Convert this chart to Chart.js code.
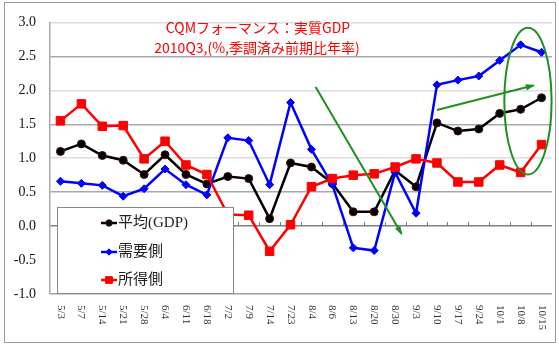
<!DOCTYPE html>
<html>
<head>
<meta charset="utf-8">
<script src="https://cdn.jsdelivr.net/npm/chart.js@4/dist/chart.umd.min.js"></script>
<style>
  html, body { margin: 0; padding: 0; background: #fff; }
</style>
</head>
<body>
<canvas id="c" width="559" height="347"></canvas>
<script>
// データ
const dates = ['5/3','5/7','5/14','5/21','5/28','6/4','6/11','6/18','7/2','7/9','7/14','7/23',
  '8/4','8/6','8/13','8/20','8/30','9/3','9/10','9/17','9/24','10/1','10/8','10/15'];
const heikin = [1.10, 1.21, 1.04, 0.97, 0.76, 1.05, 0.76, 0.62, 0.73, 0.70, 0.11, 0.93,
  0.87, 0.63, 0.21, 0.21, 0.82, 0.58, 1.52, 1.40, 1.43, 1.66, 1.72, 1.89];
const juyou = [0.66, 0.63, 0.60, 0.44, 0.55, 0.84, 0.61, 0.46, 1.30, 1.26, 0.61, 1.82,
  1.13, 0.61, -0.32, -0.36, 0.79, 0.19, 2.08, 2.15, 2.21, 2.44, 2.67, 2.56];
const shotoku = [1.55, 1.80, 1.47, 1.48, 0.99, 1.25, 0.90, 0.76, 0.17, 0.16, -0.37, 0.02,
  0.58, 0.70, 0.75, 0.77, 0.87, 0.99, 0.93, 0.65, 0.65, 0.90, 0.79, 1.20];
const titleLines = ['CQMフォーマンス：実質GDP', '2010Q3,(%,季調済み前期比年率)'];

// 緑の矢印・楕円 (カテゴリ番号, 値)
const arrows = [
  [[12.2, 2.05], [16.3, -0.11]],
  [[18.0, 1.71], [22.6, 2.07]]
];
const ellipse = { x: 22.35, y: 1.84, rx: 1.13, ry: 1.08 };

const serif = '"Liberation Serif", "DejaVu Serif", serif';
const jp = '"Noto Sans CJK JP", sans-serif';

const extras = {
  id: 'extras',
  beforeDraw(chart) {
    const ctx = chart.ctx;
    ctx.save();
    ctx.fillStyle = '#fff';
    ctx.fillRect(0, 0, chart.width, chart.height);
    ctx.strokeStyle = '#9a9a9a';
    ctx.lineWidth = 1;
    ctx.strokeRect(4.5, 2.5, 551, 340);
    ctx.restore();
  },
  afterDatasetsDraw(chart) {
    const ctx = chart.ctx;
    const xs = chart.scales.x, ys = chart.scales.y;
    const area = chart.chartArea;
    ctx.save();

    // 0ライン上の目盛り
    const y0 = ys.getPixelForValue(0);
    const step = (area.right - area.left) / dates.length;
    ctx.strokeStyle = '#777';
    ctx.lineWidth = 1;
    for (let i = 1; i < dates.length; i++) {
      const px = Math.round(area.left + step * i) + 0.5;
      ctx.beginPath(); ctx.moveTo(px, y0); ctx.lineTo(px, y0 - 4); ctx.stroke();
    }

    // x軸ラベル (縦書き)
    ctx.fillStyle = '#333';
    ctx.font = '11px ' + serif;
    ctx.textAlign = 'left';
    ctx.textBaseline = 'middle';
    dates.forEach((d, i) => {
      ctx.save();
      ctx.translate(xs.getPixelForValue(i), area.bottom + 11);
      ctx.rotate(Math.PI / 2);
      ctx.fillText(d, 0, 0);
      ctx.restore();
    });

    // タイトル
    ctx.fillStyle = '#ff0000';
    ctx.font = '14px ' + jp;
    ctx.textAlign = 'center';
    ctx.fillText(titleLines[0], 258, 28);
    ctx.fillText(titleLines[1], 257, 48);

    // 緑の注記
    ctx.strokeStyle = '#1f8f1f';
    ctx.fillStyle = '#1f8f1f';
    ctx.lineWidth = 2;
    arrows.forEach(a => {
      const x1 = xs.getPixelForValue(a[0][0]), y1 = ys.getPixelForValue(a[0][1]);
      const x2 = xs.getPixelForValue(a[1][0]), y2 = ys.getPixelForValue(a[1][1]);
      ctx.beginPath(); ctx.moveTo(x1, y1); ctx.lineTo(x2, y2); ctx.stroke();
      const ang = Math.atan2(y2 - y1, x2 - x1);
      ctx.beginPath();
      ctx.moveTo(x2 + 2 * Math.cos(ang), y2 + 2 * Math.sin(ang));
      ctx.lineTo(x2 - 8 * Math.cos(ang - 0.4), y2 - 8 * Math.sin(ang - 0.4));
      ctx.lineTo(x2 - 8 * Math.cos(ang + 0.4), y2 - 8 * Math.sin(ang + 0.4));
      ctx.closePath(); ctx.fill();
    });
    const ex = xs.getPixelForValue(ellipse.x), ey = ys.getPixelForValue(ellipse.y);
    const erx = xs.getPixelForValue(ellipse.x + ellipse.rx) - ex;
    const ery = ey - ys.getPixelForValue(ellipse.y + ellipse.ry);
    ctx.beginPath(); ctx.ellipse(ex, ey, erx, ery, 0, 0, Math.PI * 2); ctx.stroke();

    // 凡例
    const lx = 57.5, ly = 207.5, lw = 176, lh = 86;
    ctx.fillStyle = '#fff';
    ctx.fillRect(lx, ly, lw, lh);
    ctx.strokeStyle = '#888';
    ctx.lineWidth = 1;
    ctx.strokeRect(lx, ly, lw, lh);
    const rows = [223, 252, 280];
    [0, 1, 2].forEach((di, k) => {
      const ds = chart.data.datasets[di];
      const yy = rows[k];
      ctx.strokeStyle = ds.borderColor;
      ctx.lineWidth = 2.5;
      ctx.beginPath(); ctx.moveTo(101, yy); ctx.lineTo(117, yy); ctx.stroke();
      ctx.fillStyle = ds.pointBackgroundColor;
      ctx.strokeStyle = ds.pointBorderColor;
      ctx.lineWidth = 1;
      Chart.helpers.drawPoint(ctx, {
        pointStyle: ds.pointStyle, radius: ds.pointRadius * 0.8, borderWidth: 1, rotation: 0
      }, 109, yy);
      ctx.fillStyle = '#222';
      ctx.font = '15px ' + serif + ', ' + jp;
      ctx.textAlign = 'left';
      ctx.textBaseline = 'middle';
      ctx.fillText(ds.label, 118, yy);
    });
    ctx.restore();
  }
};

new Chart(document.getElementById('c'), {
  type: 'line',
  data: {
    labels: dates,
    datasets: [
      { label: '平均(GDP)', data: heikin, borderColor: '#000', borderWidth: 2.5,
        pointStyle: 'circle', pointRadius: 4, pointBackgroundColor: '#000',
        pointBorderColor: '#401010', pointBorderWidth: 1, order: 2 },
      { label: '需要側', data: juyou, borderColor: '#0000ff', borderWidth: 2.5,
        pointStyle: 'rectRot', pointRadius: 4, pointBackgroundColor: '#0000ff',
        pointBorderColor: '#0000ff', pointBorderWidth: 1, order: 1 },
      { label: '所得側', data: shotoku, borderColor: '#ff0000', borderWidth: 2.5,
        pointStyle: 'rect', pointRadius: 6, pointBackgroundColor: '#ff0000',
        pointBorderColor: '#ff0000', pointBorderWidth: 1, order: 0 }
    ]
  },
  options: {
    responsive: false,
    animation: false,
    devicePixelRatio: 1,
    layout: { padding: { left: 0, top: 14, right: 4, bottom: 53 } },
    plugins: { legend: { display: false }, tooltip: { enabled: false }, title: { display: false } },
    elements: { line: { tension: 0 } },
    scales: {
      x: { display: false, offset: true },
      y: {
        min: -1, max: 3,
        afterFit(scale) { scale.width = 50; },
        ticks: {
          stepSize: 0.5, padding: 14, color: '#111',
          font: { family: serif, size: 14 },
          callback: v => v.toFixed(1)
        },
        grid: {
          drawTicks: false,
          color: c => {
            const v = Math.round(c.tick.value * 10) / 10;
            if (v === 0) return '#808080';
            if (v === -0.5) return 'rgba(0,0,0,0)';
            if (v === -1) return '#a0a0a0';
            return (Math.round(v * 2) % 2 === 1) ? '#a8a8a8' : '#dcdcdc';
          },
          lineWidth: 1.5
        },
        border: { color: '#a8a8a8', width: 1.5 }
      }
    }
  },
  plugins: [extras]
});
</script>
</body>
</html>
